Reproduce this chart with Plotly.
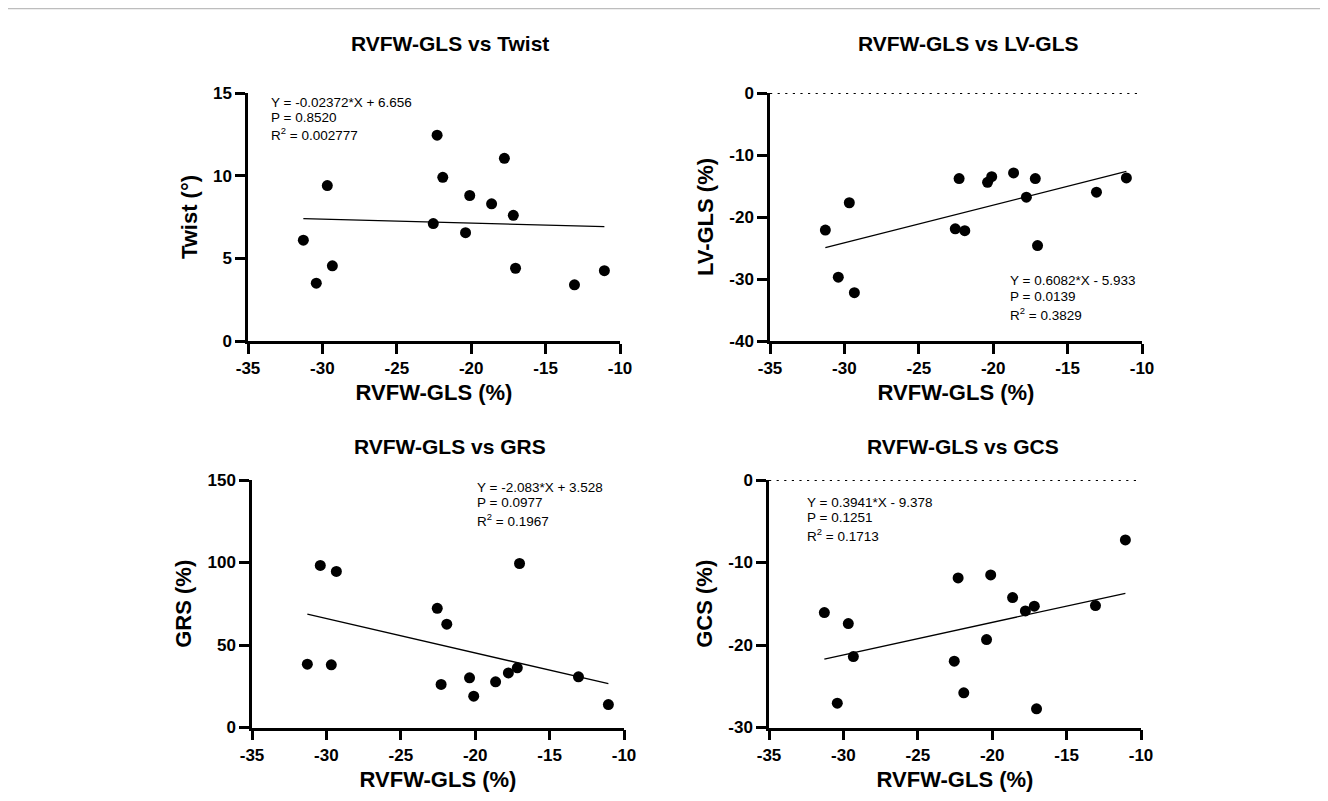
import numpy as np
import plotly.graph_objects as go

# ---------------- data ----------------
rvfw_gls = [-31.28, -30.41, -29.67, -29.33, -22.55, -22.29, -21.91, -20.38,
            -20.10, -18.63, -17.77, -17.17, -17.02, -13.06, -11.05]
twist = [6.1, 3.5, 9.4, 4.55, 7.1, 12.45, 9.9, 6.55, 8.8, 8.3, 11.05, 7.6, 4.4, 3.4, 4.25]
lv_gls = [-22.1, -29.7, -17.7, -32.2, -21.9, -13.8, -22.2, -14.4, -13.5, -12.9,
          -16.8, -13.8, -24.6, -16.0, -13.7]
grs = [38.4, 98.2, 38.0, 94.6, 72.2, 26.1, 62.6, 30.1, 19.0, 27.7, 33.1, 36.2, 99.4, 30.7, 13.9]
gcs = [-16.07, -27.05, -17.4, -21.4, -21.96, -11.87, -25.8, -19.34, -11.5, -14.25,
       -15.87, -15.3, -27.73, -15.22, -7.27]

titles = ["RVFW-GLS vs Twist", "RVFW-GLS vs LV-GLS", "RVFW-GLS vs GRS", "RVFW-GLS vs GCS"]
y_titles = ["Twist (°)", "LV-GLS (%)", "GRS (%)", "GCS (%)"]
x_title = "RVFW-GLS (%)"
slopes = [-0.02372, 0.6082, -2.083, 0.3941]
intercepts = [6.656, -5.933, 3.528, -9.378]
eq_texts = [
    ["Y = -0.02372*X + 6.656", "P = 0.8520", "R<sup>2</sup> = 0.002777"],
    ["Y = 0.6082*X - 5.933", "P = 0.0139", "R<sup>2</sup> = 0.3829"],
    ["Y = -2.083*X + 3.528", "P = 0.0977", "R<sup>2</sup> = 0.1967"],
    ["Y = 0.3941*X - 9.378", "P = 0.1251", "R<sup>2</sup> = 0.1713"],
]
x_ticks = [-35, -30, -25, -20, -15, -10]
y_ticks = [[0, 5, 10, 15], [-40, -30, -20, -10, 0], [0, 50, 100, 150], [-30, -20, -10, 0]]
y_ranges = [[0, 15], [-40, 0], [0, 150], [-30, 0]]
y_series = [twist, lv_gls, grs, gcs]
zero_line = [False, True, False, True]

# ---------------- layout geometry ----------------
# The page body has an 8 px margin, so the figure is 8 px smaller than the
# window and every page-pixel position below is shifted by that margin.
PAGE_OFF = 8
W, H = 1320, 793
FONT = "Arial, Liberation Sans, Helvetica, sans-serif"


def px_x(p):
    return (p - PAGE_OFF) / W


def px_y(p):
    return 1 - (p - PAGE_OFF) / H


def tick_text(vals):
    return [str(v) for v in vals]  # plain hyphen-minus like the reference


# plot areas in page pixels: (left, right, top, bottom)
boxes = [(248, 620, 93, 341), (770, 1142, 93, 341),
         (252, 624, 480, 727.5), (769, 1141, 480, 727.5)]
title_pos = [(450, 44), (968, 44), (450, 446), (963, 446)]
eq_pos = [(269, 102), (1008, 281), (475, 487), (805, 502)]
eq_dy = [0, 15.5, 32.5]

fig = go.Figure()
layout = dict(
    width=W, height=H, margin=dict(l=0, r=0, t=0, b=0, autoexpand=False),
    paper_bgcolor="white", plot_bgcolor="white", showlegend=False,
    font=dict(family=FONT, color="black"),
)
annotations = []
shapes = []

xfit = np.array([min(rvfw_gls), max(rvfw_gls)])

for i in range(4):
    n = "" if i == 0 else str(i + 1)
    xa, ya = "x" + n, "y" + n
    l, r, t, b = boxes[i]
    axis_common = dict(
        showline=True, linewidth=2.5, linecolor="black", mirror=False,
        ticks="outside", ticklen=10, tickwidth=2.5, tickcolor="black",
        showgrid=False, zeroline=False, automargin=False,
        tickfont=dict(family=FONT, size=17, color="black", weight="bold"),
    )
    layout["xaxis" + n] = dict(
        axis_common, domain=[px_x(l), px_x(r)], anchor=ya,
        range=[-35, -10], tickmode="array", tickvals=x_ticks, ticktext=tick_text(x_ticks),
        title=dict(text=x_title, standoff=8,
                   font=dict(family=FONT, size=22, color="black", weight="bold")),
    )
    layout["yaxis" + n] = dict(
        axis_common, domain=[px_y(b), px_y(t)], anchor=xa,
        range=y_ranges[i], tickmode="array", tickvals=y_ticks[i],
        ticktext=tick_text(y_ticks[i]),
        title=dict(text=y_titles[i], standoff=10,
                   font=dict(family=FONT, size=22, color="black", weight="bold")),
    )

    if zero_line[i]:
        fig.add_trace(go.Scatter(
            x=[-35, -10], y=[0, 0], mode="lines", xaxis=xa, yaxis=ya,
            line=dict(color="black", width=2.2, dash="2.2px,5.4px"),
            hoverinfo="skip", cliponaxis=False))

    fig.add_trace(go.Scatter(
        x=xfit, y=slopes[i] * xfit + intercepts[i], mode="lines",
        xaxis=xa, yaxis=ya, line=dict(color="black", width=1.3), hoverinfo="skip"))

    fig.add_trace(go.Scatter(
        x=rvfw_gls, y=y_series[i], mode="markers", xaxis=xa, yaxis=ya,
        marker=dict(color="black", size=11, line=dict(width=0)), cliponaxis=False))

    tx, ty = title_pos[i]
    annotations.append(dict(
        text=titles[i], xref="paper", yref="paper", x=px_x(tx), y=px_y(ty),
        xanchor="center", yanchor="middle", showarrow=False,
        font=dict(family=FONT, size=21, color="black", weight="bold")))

    ex, ey = eq_pos[i]
    for k, line in enumerate(eq_texts[i]):
        annotations.append(dict(
            text=line, xref="paper", yref="paper", x=px_x(ex), y=px_y(ey + eq_dy[k]),
            xanchor="left", yanchor="middle", showarrow=False,
            font=dict(family=FONT, size=13.5, color="black")))

# light grey frame on the right edge of the page
shapes.append(dict(type="line", xref="paper", yref="paper",
                   x0=px_x(1326.5), x1=px_x(1326.5), y0=0, y1=px_y(8),
                   line=dict(color="#bdbdbd", width=1.5)))
shapes.append(dict(type="line", xref="paper", yref="paper",
                   x0=0, x1=px_x(1326.5), y0=px_y(8.5), y1=px_y(8.5),
                   line=dict(color="#bdbdbd", width=1.5)))

layout["annotations"] = annotations
layout["shapes"] = shapes
fig.update_layout(**layout)
fig.write_html("out.html")
